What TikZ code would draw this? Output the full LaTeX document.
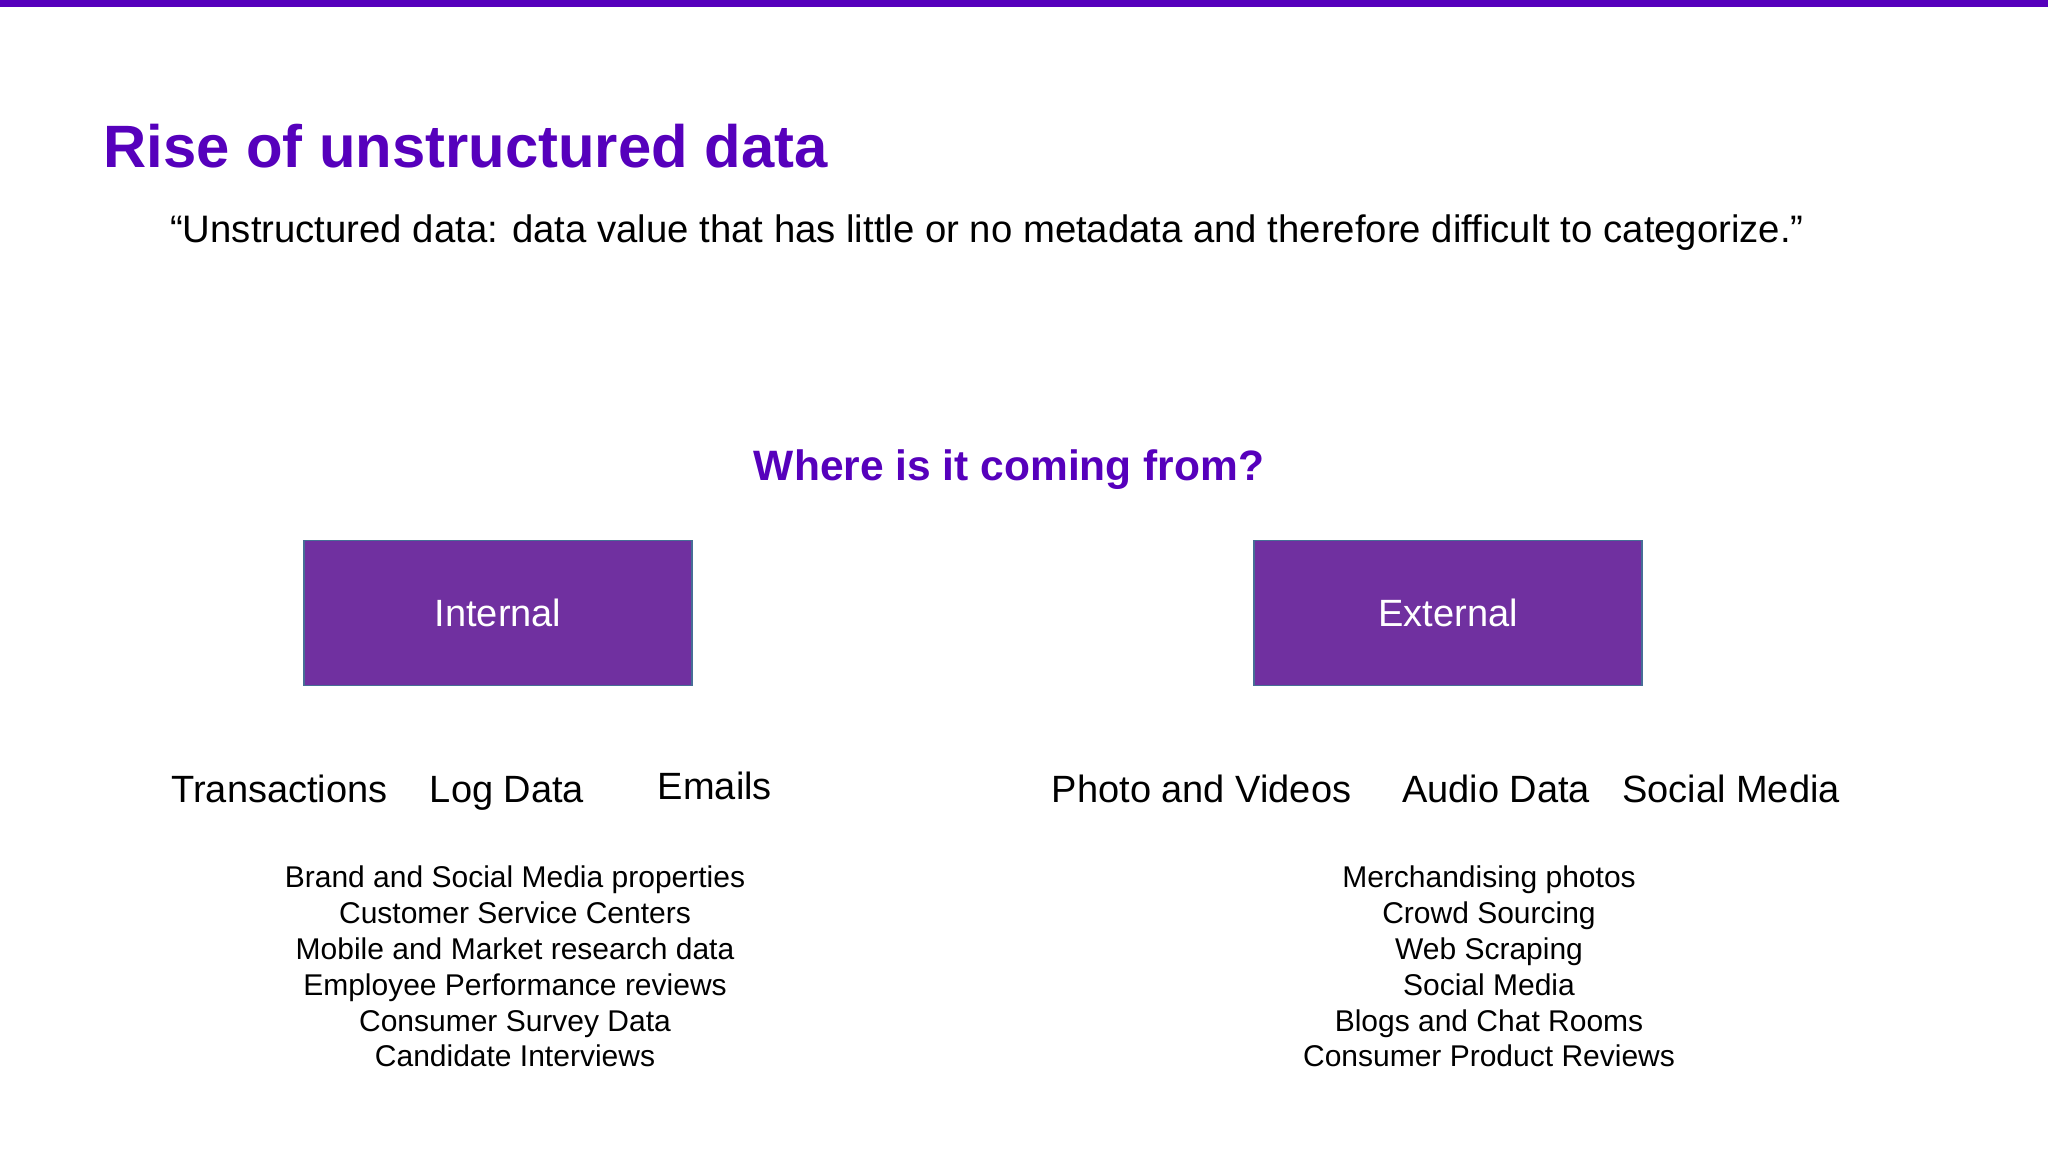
\documentclass[tikz,border=0pt]{standalone}
\usepackage{fontspec}
\setmainfont{Liberation Sans}
\definecolor{titlepurple}{RGB}{86,0,188}
\definecolor{boxpurple}{RGB}{112,48,160}
\definecolor{boxedge}{RGB}{70,110,150}
\tikzset{
  x=1pt, y=-1pt,
  srcbox/.style={draw=boxedge, line width=1.5pt, fill=boxpurple, minimum width=388pt, minimum height=145pt, inner sep=0pt, text=white, font=\fontsize{38}{46}\selectfont},
  item/.style={inner sep=0pt, anchor=base, font=\fontsize{38}{46}\selectfont},
  itemlist/.style={inner sep=0pt, align=center, font=\fontsize{30}{35.8}\selectfont},
}
\begin{document}
\begin{tikzpicture}
\useasboundingbox (0,0) rectangle (2048,1152);
\fill[white] (0,0) rectangle (2048,1152);
\fill[titlepurple] (0,0) rectangle (2048,6.5);
\node[anchor=base west, inner sep=0pt, text=titlepurple, font=\fontsize{59.8}{70}\bfseries\selectfont] (title) at (103,167) {Rise of unstructured data};
\node[anchor=west, inner sep=0pt, font=\fontsize{38.3}{46}\selectfont] (quote) at (170,233) {“Unstructured data: data value that has little or no metadata and therefore difficult to categorize.”};
\node[inner sep=0pt, text=titlepurple, font=\fontsize{42.5}{50}\bfseries\selectfont] (where) at (1009,470) {Where is it coming from?};
\node[srcbox] (internal) at (498,613) {Internal};
\node[srcbox] (external) at (1448,613) {External};
\node[item] (trans) at (279.5,802) {Transactions};
\node[item] (log) at (507,802) {Log Data};
\node[item] (emails) at (715,799) {Emails};
\node[item] (photo) at (1201.5,802) {Photo and Videos};
\node[item] (audio) at (1496,802) {Audio Data};
\node[item] (social) at (1731,802) {Social Media};
\node[itemlist, anchor=north] (intlist) at (515,866) {Brand and Social Media properties\\Customer Service Centers\\Mobile and Market research data\\Employee Performance reviews\\Consumer Survey Data\\Candidate Interviews};
\node[itemlist, anchor=north] (extlist) at (1489,866) {Merchandising photos\\Crowd Sourcing\\Web Scraping\\Social Media\\Blogs and Chat Rooms\\Consumer Product Reviews};
\end{tikzpicture}
\end{document}
